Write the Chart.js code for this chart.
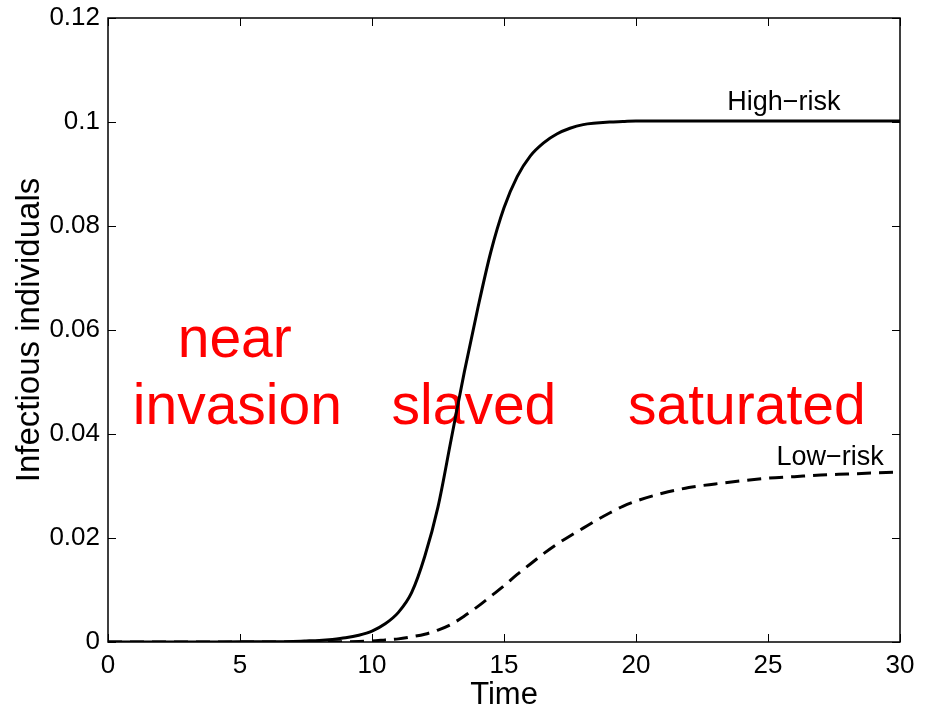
<!DOCTYPE html>
<html>
<head>
<meta charset="utf-8">
<script src="https://cdn.jsdelivr.net/npm/chart.js@4/dist/chart.umd.min.js"></script>
<style>
  html,body{margin:0;padding:0;background:#fff;}
  #wrap{width:928px;height:708px;position:relative;}
</style>
</head>
<body>
<div id="wrap"><canvas id="c" width="928" height="708"></canvas></div>
<script>
// ---- data ----
const timePoints = [0,1,2,3,4,5,6,7,7.5,8,8.5,9,9.5,10,10.5,11,11.5,12,12.5,13,13.5,14,14.5,15,15.5,16,16.5,17,17.5,18,18.5,19,19.5,20,21,22,23,24,25,26,27,28,29,30];
const highRisk = [0,0,0,0,0.00002,0.00003,0.00006,0.00012,0.0002,0.0003,0.0005,0.0008,0.0013,0.0021,0.0035,0.0057,0.0095,0.0165,0.026,0.039,0.052,0.064,0.075,0.0835,0.0895,0.0935,0.096,0.0977,0.0988,0.0995,0.0998,0.1,0.1001,0.1002,0.1002,0.1002,0.1002,0.1002,0.1002,0.1002,0.1002,0.1002,0.1002,0.1002];
const lowRisk = [0,0,0,0,0,0,0,0,0.00001,0.00002,0.00003,0.00005,0.0001,0.0002,0.0004,0.0006,0.001,0.0015,0.0023,0.0034,0.005,0.0068,0.0088,0.0108,0.013,0.015,0.017,0.0188,0.0204,0.0219,0.0234,0.0248,0.0261,0.0271,0.0286,0.0297,0.0304,0.031,0.0315,0.0318,0.0321,0.0323,0.0325,0.0327];
const xTicks = [0,5,10,15,20,25,30];
const yTicks = [0,0.02,0.04,0.06,0.08,0.1,0.12];
const seriesLabels = ['High\u2212risk','Low\u2212risk'];
const regionLabels = [['near','invasion'],['slaved'],['saturated']];
const xTitle = 'Time';
const yTitle = 'Infectious individuals';

const FONT = '"Liberation Sans", Arial, Helvetica, sans-serif';

const boxPlugin = {
  id:'box',
  beforeDatasetsDraw(chart){
    const {ctx, scales:{x,y}} = chart;
    ctx.save();
    ctx.fillStyle = '#ff0000';
    ctx.font = '57px ' + FONT;
    ctx.textAlign = 'center';
    ctx.textBaseline = 'alphabetic';
    ctx.fillText(regionLabels[0][0], x.getPixelForValue(4.8), y.getPixelForValue(0.0548));
    ctx.fillText(regionLabels[0][1], x.getPixelForValue(4.9), y.getPixelForValue(0.0419));
    ctx.fillText(regionLabels[1][0], x.getPixelForValue(13.86), y.getPixelForValue(0.0419));
    ctx.fillText(regionLabels[2][0], x.getPixelForValue(24.2), y.getPixelForValue(0.0419));
    ctx.restore();
  },
  afterDraw(chart){
    const {ctx, chartArea:a, scales:{x,y}} = chart;
    ctx.save();
    ctx.strokeStyle = '#000';
    ctx.lineWidth = 1.5;
    ctx.strokeRect(a.left, a.top, a.right-a.left, a.bottom-a.top);
    ctx.lineWidth = 1;
    const L = 8;
    ctx.beginPath();
    xTicks.forEach(v=>{
      const px = Math.round(x.getPixelForValue(v))+0.5;
      ctx.moveTo(px,a.bottom); ctx.lineTo(px,a.bottom-L);
      ctx.moveTo(px,a.top); ctx.lineTo(px,a.top+L);
    });
    yTicks.forEach(v=>{
      const py = Math.round(y.getPixelForValue(v))+0.5;
      ctx.moveTo(a.left,py); ctx.lineTo(a.left+L,py);
      ctx.moveTo(a.right,py); ctx.lineTo(a.right-L,py);
    });
    ctx.stroke();
    ctx.fillStyle = '#000';
    ctx.font = '27px ' + FONT;
    ctx.textAlign = 'center';
    ctx.textBaseline = 'alphabetic';
    ctx.fillText(seriesLabels[0], x.getPixelForValue(25.6), y.getPixelForValue(0.1) - 12);
    ctx.fillText(seriesLabels[1], x.getPixelForValue(27.35), y.getPixelForValue(0.0327) - 7);
    ctx.restore();
  }
};

new Chart(document.getElementById('c'), {
  type:'line',
  data:{
    datasets:[
      {label:seriesLabels[0], data: timePoints.map((t,i)=>({x:t,y:highRisk[i]})),
       borderColor:'#000', borderWidth:3, pointRadius:0, cubicInterpolationMode:'monotone', fill:false},
      {label:seriesLabels[1], data: timePoints.map((t,i)=>({x:t,y:lowRisk[i]})),
       borderColor:'#000', borderWidth:3, borderDash:[14,8], pointRadius:0, cubicInterpolationMode:'monotone', fill:false}
    ]
  },
  plugins:[boxPlugin],
  options:{
    responsive:false, animation:false,
    devicePixelRatio:1,
    layout:{padding:{top:18,right:28,left:0,bottom:0}},
    plugins:{legend:{display:false}, tooltip:{enabled:false}},
    scales:{
      x:{type:'linear', min:0, max:30,
         afterBuildTicks:s=>{s.ticks = xTicks.map(v=>({value:v}));},
         afterFit:s=>{s.height = 66; s.paddingLeft = 0; s.paddingRight = 0;},
         grid:{display:false, drawTicks:false}, border:{display:false},
         ticks:{color:'#000', font:{size:26, family:FONT}, padding:8, maxRotation:0,
                callback:v=>String(v)},
         title:{display:true, text:xTitle, color:'#000', font:{size:31, family:FONT}, padding:{top:0,bottom:-6}}
      },
      y:{type:'linear', min:0, max:0.12,
         afterBuildTicks:s=>{s.ticks = yTicks.map(v=>({value:v}));},
         afterFit:s=>{s.width = 108; s.paddingTop = 0; s.paddingBottom = 0;},
         grid:{display:false, drawTicks:false}, border:{display:false},
         ticks:{color:'#000', font:{size:26, family:FONT}, padding:8,
                callback:v=>String(+(+v).toFixed(2))},
         title:{display:true, text:yTitle, color:'#000', font:{size:33, family:FONT}, padding:{top:10,bottom:0}}
      }
    }
  }
});
</script>
</body>
</html>
